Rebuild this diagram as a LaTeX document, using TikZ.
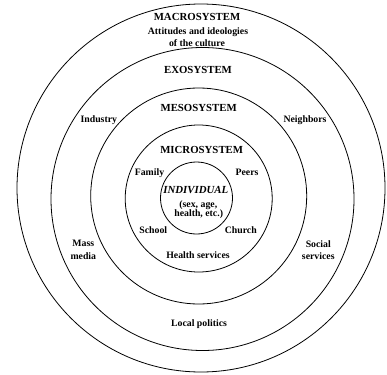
\documentclass[tikz,border=0pt]{standalone}
\usepackage{fontspec}
\setmainfont{Liberation Serif}
\begin{document}
\begin{tikzpicture}[x=1pt,y=-1pt,
  ring/.style={draw, circle, line width=0.8pt, inner sep=0pt},
  head/.style={font=\fontsize{10.8}{12}\selectfont\bfseries, inner sep=0pt},
  lab/.style={font=\fontsize{9.8}{11}\selectfont\bfseries, inner sep=0pt, align=center}]
\useasboundingbox (0,0) rectangle (387,374);
% rings
\node[ring, minimum size=368pt] (macroring) at (201,188) {};
\node[ring, minimum size=303pt] (exoring) at (202.5,199) {};
\node[ring, minimum size=216pt] (mesoring) at (198.7,196) {};
\node[ring, minimum size=147pt] (microring) at (198.7,198.5) {};
\node[ring, minimum size=72pt] (indring) at (196.5,198) {};
% macrosystem
\node[head] (macro) at (197,16.7) {MACROSYSTEM};
\node[lab] (macro1) at (198,32.3) {Attitudes and ideologies};
\node[lab] (macro2) at (197,42.7) {of the culture};
% exosystem
\node[head] (exo) at (198,70) {EXOSYSTEM};
\node[lab] (industry) at (98.8,120) {Industry};
\node[lab] (neighbors) at (305,120) {Neighbors};
\node[lab] (mass1) at (83.3,243.7) {Mass};
\node[lab] (mass2) at (83.3,256) {media};
\node[lab] (social1) at (318.3,243.7) {Social};
\node[lab] (social2) at (318.3,256) {services};
\node[lab] (local) at (199,324.3) {Local politics};
% mesosystem
\node[head] (meso) at (198.7,108.3) {MESOSYSTEM};
\node[lab] (health) at (198,254.7) {Health services};
% microsystem
\node[head] (micro) at (201.7,150) {MICROSYSTEM};
\node[lab] (family) at (149.5,172.7) {Family};
\node[lab] (peers) at (247,172.7) {Peers};
\node[lab] (school) at (153.3,230.3) {School};
\node[lab] (church) at (240.8,230.3) {Church};
% individual
\node[head, font=\fontsize{10.8}{12}\selectfont\bfseries\itshape] (ind) at (195.8,190.3) {INDIVIDUAL};
\node[lab] (ind1) at (198.3,205.3) {(sex, age,};
\node[lab] (ind2) at (198.7,213.7) {health, etc.)};
\end{tikzpicture}
\end{document}
